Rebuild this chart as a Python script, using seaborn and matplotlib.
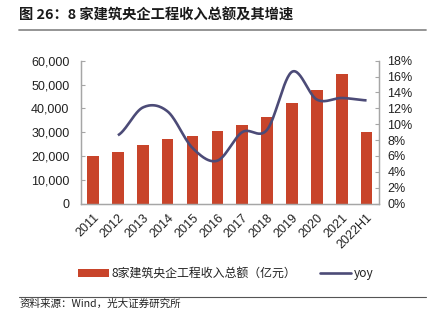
import numpy as np
import pandas as pd
import matplotlib
matplotlib.use("Agg")
import matplotlib.pyplot as plt
import seaborn as sns
from matplotlib.patches import Patch
from matplotlib.lines import Line2D
from matplotlib.ticker import FuncFormatter, FixedLocator

# ---- data ----
categories = ["2011", "2012", "2013", "2014", "2015", "2016", "2017", "2018",
              "2019", "2020", "2021", "2022H1"]
revenue = [19900, 21500, 24500, 27000, 28550, 30650, 33050, 36150,
           42200, 47800, 54400, 30100]
yoy = [np.nan, 8.6, 12.1, 11.6, 7.0, 5.4, 9.0, 9.3, 16.6, 13.1, 13.3, 13.0]

title = "图 26：8 家建筑央企工程收入总额及其增速"
bar_label = "8家建筑央企工程收入总额（亿元）"
line_label = "yoy"
source = "资料来源：Wind，光大证券研究所"

BAR_C = "#C8442A"
LINE_C = "#4C4B77"
AX_C = "#A6A6A6"

sns.set_style("white")
plt.rcParams["font.family"] = ["Liberation Sans", "Noto Sans CJK SC", "DejaVu Sans"]
CJK = ["Noto Sans CJK SC", "DejaVu Sans"]

fig = plt.figure(figsize=(4.43, 3.25), dpi=100)
ax = fig.add_axes([0.182, 0.3738, 0.6735, 0.4394])

df = pd.DataFrame({"cat": categories, "rev": revenue})
sns.barplot(data=df, x="cat", y="rev", color=BAR_C, width=0.47, ax=ax,
            saturation=1, edgecolor="none")
ax.set_xlim(-0.5, len(categories) - 0.5)
ax.set_ylim(0, 60000)
ax.set_yticks(np.arange(0, 60001, 10000))
ax.yaxis.set_major_formatter(FuncFormatter(lambda v, p: f"{int(v):,}"))
ax.set_xlabel("")
ax.set_ylabel("")
ax.set_xticks(range(len(categories)))
ax.set_xticklabels(categories, rotation=45, ha="right", rotation_mode="anchor", fontsize=9)
ax.tick_params(axis="x", length=0, pad=6)
ax.xaxis.set_minor_locator(FixedLocator(np.arange(-0.5, len(categories), 1.0)))
ax.tick_params(axis="x", which="minor", length=3, direction="in", color=AX_C, width=0.8)
ax.tick_params(axis="y", length=3, direction="in", color=AX_C, width=0.8, labelsize=9, pad=8)

# smoothed yoy line (Excel-style Catmull-Rom Bezier through data points)
xs = np.arange(len(categories), dtype=float)
ys = np.array(yoy, dtype=float) / 100.0
m = ~np.isnan(ys)
px, py = xs[m], ys[m]
n = len(px)
curve_x, curve_y = [], []
t = np.linspace(0, 1, 30)
for i in range(n - 1):
    p0 = py[i - 1] if i > 0 else py[i]
    p1, p2 = py[i], py[i + 1]
    p3 = py[i + 2] if i + 2 < n else py[i + 1]
    c1 = p1 + (p2 - p0) / 6.0
    c2 = p2 - (p3 - p1) / 6.0
    by = (1 - t) ** 3 * p1 + 3 * (1 - t) ** 2 * t * c1 + 3 * (1 - t) * t ** 2 * c2 + t ** 3 * p2
    bx = px[i] + (px[i + 1] - px[i]) * t
    curve_x.extend(bx)
    curve_y.extend(by)

ax2 = ax.twinx()
ax2.plot(curve_x, curve_y, color=LINE_C, lw=1.9, solid_capstyle="butt")
ax2.set_ylim(0, 0.18)
ax2.set_yticks(np.arange(0, 0.1801, 0.02))
ax2.yaxis.set_major_formatter(FuncFormatter(lambda v, p: f"{v*100:.0f}%"))
ax2.tick_params(axis="y", length=3, direction="in", color=AX_C, width=0.8, labelsize=9, pad=6)
ax2.set_xlim(-0.5, len(categories) - 0.5)

for a in (ax, ax2):
    for s in ("left", "right", "bottom"):
        a.spines[s].set_color(AX_C)
        a.spines[s].set_linewidth(0.9)
    a.spines["top"].set_visible(False)
    for lbl in a.get_yticklabels():
        lbl.set_color("#222222")
for lbl in ax.get_xticklabels():
    lbl.set_color("#222222")

# title and rules
fig.text(0.043, 0.951, title, fontsize=10.3, fontweight="bold", family=CJK,
         ha="left", va="center", color="#1a1a1a")
fig.add_artist(Line2D([0.043, 0.962], [0.9077, 0.9077], color="#8C8C8C", lw=1.3))
fig.add_artist(Line2D([0.043, 0.962], [0.0862, 0.0862], color="#555555", lw=0.8))
fig.text(0.043, 0.064, source, fontsize=7.6, family=CJK, ha="left", va="center",
         color="#222222")

handles = [Patch(facecolor=BAR_C, edgecolor="none", label=bar_label),
           Line2D([0], [0], color=LINE_C, lw=1.9, label=line_label)]
leg = fig.legend(handles=handles, loc="center", bbox_to_anchor=(0.51, 0.157), ncol=2,
                 frameon=False, handlelength=2.6, handleheight=0.6, handletextpad=0.2,
                 columnspacing=2.0, prop={"family": CJK, "size": 8.6})
for tx in leg.get_texts():
    tx.set_color("#222222")

fig.savefig("out.png", dpi=100)
